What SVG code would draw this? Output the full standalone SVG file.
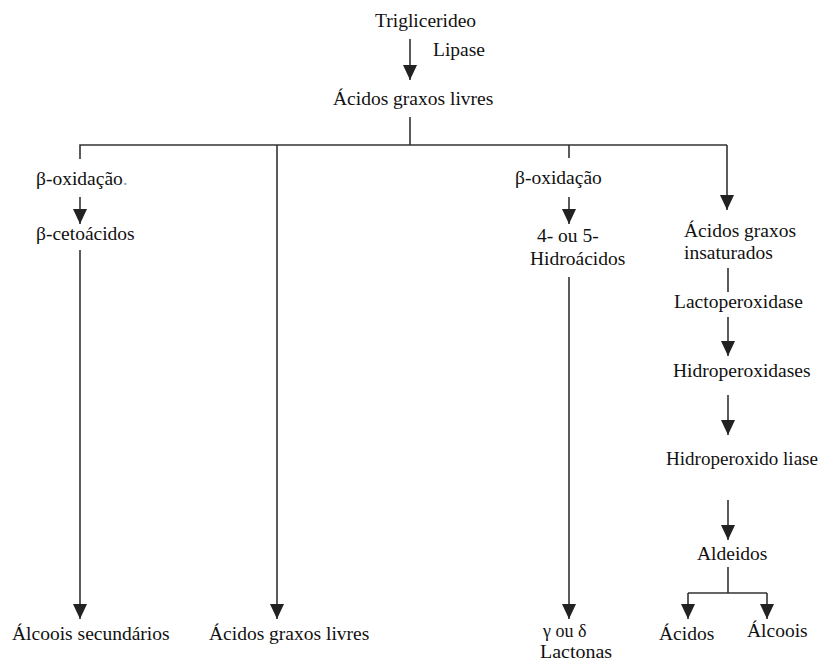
<svg xmlns="http://www.w3.org/2000/svg" width="821" height="663" viewBox="0 0 821 663">
<defs>
<style>
text{font-family:"Liberation Serif","Times New Roman",serif;font-size:19.5px;fill:#111;}
.sm{font-size:18px;}
.ln{fill:none;stroke:#333;stroke-width:1.6;}
.ar{fill:none;stroke:#333;stroke-width:1.6;marker-end:url(#ah);}
.faint{fill:#9ab;}
</style>
<marker id="ah" viewBox="0 0 15 14" refX="15" refY="7" markerWidth="15" markerHeight="14" markerUnits="userSpaceOnUse" orient="auto">
<path d="M0,0 L15,7 L0,14 z" fill="#222"/>
</marker>
</defs>
<rect width="821" height="663" fill="#fff"/>
<g id="connectors">
<path class="ar" d="M410,39 V80"/>
<path class="ln" d="M410,117 V145"/>
<path class="ln" d="M80,159 V145 H727 V145"/>
<path class="ln" d="M569,145 V158"/>
<path class="ar" d="M727,145 V210"/>
<path class="ar" d="M80,197 V224"/>
<path class="ar" d="M80,250 V619"/>
<path class="ar" d="M277,145 V619"/>
<path class="ar" d="M569,197 V224"/>
<path class="ar" d="M569,277 V619"/>
<path class="ln" d="M728,268 V292"/>
<path class="ar" d="M728,317 V356"/>
<path class="ar" d="M728,395 V435"/>
<path class="ar" d="M728,500 V540"/>
<path class="ln" d="M728,567 V593"/>
<path class="ar" d="M688,593 H767 M688,593 V619"/>
<path class="ar" d="M767,593 V619"/>
</g>
<g id="triglicerideo"><text x="375" y="27">Triglicerideo</text></g>
<g id="lipase"><text x="433" y="56">Lipase</text></g>
<g id="acidos-graxos-livres-top"><text x="333" y="105">Ácidos graxos livres</text></g>
<g id="beta-oxidacao-left"><text x="36" y="185">β-oxidação<tspan class="faint">.</tspan></text></g>
<g id="beta-cetoacidos"><text x="36" y="240">β-cetoácidos</text></g>
<g id="alcoois-secundarios"><text x="12" y="640">Álcoois secundários</text></g>
<g id="acidos-graxos-livres-bottom"><text x="209" y="640">Ácidos graxos livres</text></g>
<g id="beta-oxidacao-mid"><text x="515" y="184">β-oxidação</text></g>
<g id="hidroacidos"><text x="537" y="242">4- ou 5-</text><text x="530" y="265">Hidroácidos</text></g>
<g id="lactonas"><text class="sm" x="543" y="637">γ ou δ</text><text class="sm" x="540" y="658" textLength="72" lengthAdjust="spacingAndGlyphs">Lactonas</text></g>
<g id="acidos-insaturados"><text x="684" y="237">Ácidos graxos</text><text x="684" y="259">insaturados</text></g>
<g id="lactoperoxidase"><text x="674" y="308">Lactoperoxidase</text></g>
<g id="hidroperoxidases"><text x="673" y="377">Hidroperoxidases</text></g>
<g id="hidroperoxido-liase"><text x="666" y="465" textLength="152" lengthAdjust="spacingAndGlyphs">Hidroperoxido liase</text></g>
<g id="aldeidos"><text x="697" y="560">Aldeidos</text></g>
<g id="acidos"><text x="659" y="640">Ácidos</text></g>
<g id="alcoois"><text x="747" y="637">Álcoois</text></g>
</svg>
